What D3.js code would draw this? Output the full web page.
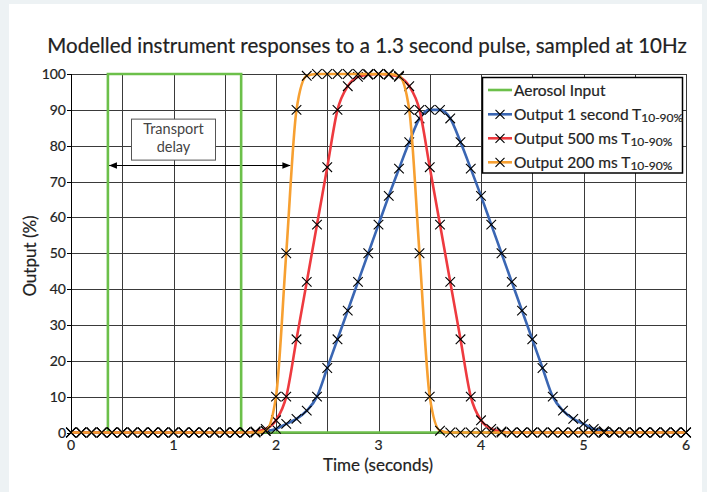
<!DOCTYPE html>
<html>
<head>
<meta charset="utf-8">
<script src="https://cdn.jsdelivr.net/npm/d3@7"></script>
<style>
  html, body { margin: 0; padding: 0; background: #edf2f4; }
  svg { display: block; }
  text { font-family: Lato, "Open Sans", sans-serif; stroke-width: 0.2px; }
</style>
</head>
<body>
<svg id="chart" width="707" height="492"></svg>
<script>
// ---------------- DATA ----------------
const title = "Modelled instrument responses to a 1.3 second pulse, sampled at 10Hz";
const xLabel = "Time (seconds)";
const yLabel = "Output (%)";
const xTicks = [0, 1, 2, 3, 4, 5, 6];
const yTicks = [0, 10, 20, 30, 40, 50, 60, 70, 80, 90, 100];

// sample times at 10 Hz
const time = [0.0,0.1,0.2,0.3,0.4,0.5,0.6,0.7,0.8,0.9,
              1.0,1.1,1.2,1.3,1.4,1.5,1.6,1.7,1.8,1.9,
              2.0,2.1,2.2,2.3,2.4,2.5,2.6,2.7,2.8,2.9,
              3.0,3.1,3.2,3.3,3.4,3.5,3.6,3.7,3.8,3.9,
              4.0,4.1,4.2,4.3,4.4,4.5,4.6,4.7,4.8,4.9,
              5.0,5.1,5.2,5.3,5.4,5.5,5.6,5.7,5.8,5.9,6.0];

// Aerosol input (square pulse)
const aerosolTime  = [0, 0.36, 0.36, 1.66, 1.66, 6];
const aerosolValue = [0, 0, 100, 100, 0, 0];

// Output 1 second T10-90%
const out1s = [0,0,0,0,0,0,0,0,0,0,
               0,0,0,0,0,0,0,0,0.1,0.4,
               1.0,2.4,3.8,6.1,10,18,26,34,42,50,
               58,66,73.6,81,87.6,90,90,87.6,81,73.6,
               66,58,50,42,34,26,18,10,6.1,3.8,
               2.4,1.0,0.4,0.1,0,0,0,0,0,0,0];

// Output 500 ms T10-90%
const out500 = [0,0,0,0,0,0,0,0,0,0,
                0,0,0,0,0,0,0,0,0.3,1.0,
                3.4,10,26,42,58,74,90,96.6,99.2,99.8,
                100,99.8,99.2,96.6,90,74,58,42,26,10,
                3.4,1.0,0.3,0,0,0,0,0,0,0,
                0,0,0,0,0,0,0,0,0,0,0];

// Output 200 ms T10-90%
const out200 = [0,0,0,0,0,0,0,0,0,0,
                0,0,0,0,0,0,0,0,0,0.5,
                10,50,90,99.5,100,100,100,100,100,100,
                100,100,99.5,90,50,10,0.5,0,0,0,
                0,0,0,0,0,0,0,0,0,0,
                0,0,0,0,0,0,0,0,0,0,0];

const seriesNames = ["Aerosol Input", "Output 1 second T", "Output 500 ms T", "Output 200 ms T"];
const seriesSubs  = ["", "10-90%", "10-90%", "10-90%"];
const seriesColors = ["#6cc04a", "#3a66b3", "#ee3a3f", "#f7a031"];

// annotation
const annoText = ["Transport", "delay"];
const annoBox = {t: 1.0, v: 81.7};
const arrowFrom = 0.37, arrowTo = 2.14, arrowV = 74.6;

// ---------------- LAYOUT ----------------
const W = 707, H = 492;
const plot = {left: 71, right: 686, top: 74, bottom: 432.5};
const ink = "#222";

const svg = d3.select("#chart");

// white card
svg.append("rect").attr("x", 9).attr("y", 4).attr("width", 693).attr("height", H - 4)
  .attr("fill", "#ffffff");

const x = d3.scaleLinear().domain([0, 6]).range([plot.left, plot.right]);
const y = d3.scaleLinear().domain([0, 100]).range([plot.bottom, plot.top]);

const crisp = v => Math.round(v) + 0.5;

function fit(sel, base, target) {
  const w = sel.node().getComputedTextLength();
  sel.attr("font-size", base * target / w);
}

// title
const titleEl = svg.append("text")
  .attr("x", 367).attr("y", 53).attr("text-anchor", "middle")
  .attr("font-size", 18).attr("fill", ink).attr("stroke", ink).text(title);
fit(titleEl, 18, 640);

// gridlines
const grid = svg.append("g");
const xGrid = d3.range(0, 6.001, 0.5);
grid.selectAll("line.v").data(xGrid).join("line")
  .attr("x1", d => crisp(x(d))).attr("x2", d => crisp(x(d)))
  .attr("y1", y(100)).attr("y2", y(0))
  .attr("stroke", "#3a3a3a").attr("stroke-width", 1);
grid.selectAll("line.h").data(yTicks).join("line")
  .attr("y1", d => crisp(y(d))).attr("y2", d => crisp(y(d)))
  .attr("x1", x(0)).attr("x2", x(6))
  .attr("stroke", "#3a3a3a").attr("stroke-width", 1);

// annotation box (behind series)
const boxW = 84, boxH = 41;
const bx = x(annoBox.t), by = y(annoBox.v);
svg.append("rect")
  .attr("x", bx - boxW / 2).attr("y", by - boxH / 2).attr("width", boxW).attr("height", boxH)
  .attr("fill", "#fff").attr("stroke", "#555").attr("stroke-width", 1);
svg.selectAll("text.anno").data(annoText).join("text")
  .attr("class", "anno")
  .attr("x", bx).attr("y", (d, i) => by - 5.5 + i * 18)
  .attr("text-anchor", "middle").attr("font-size", 14.5).attr("fill", "#444")
  .style("stroke-width", 0)
  .text(d => d);

// arrow
const defs = svg.append("defs");
defs.append("marker").attr("id", "ah").attr("viewBox", "0 0 10 10")
  .attr("refX", 10).attr("refY", 5).attr("markerWidth", 8).attr("markerHeight", 8)
  .attr("markerUnits", "userSpaceOnUse").attr("orient", "auto-start-reverse")
  .append("path").attr("d", "M0,1 L10,5 L0,9 z").attr("fill", "#000");
svg.append("line")
  .attr("x1", x(arrowFrom)).attr("x2", x(arrowTo))
  .attr("y1", crisp(y(arrowV))).attr("y2", crisp(y(arrowV)))
  .attr("stroke", "#000").attr("stroke-width", 1)
  .attr("marker-start", "url(#ah)").attr("marker-end", "url(#ah)");

// series
const lineGen = d3.line().x(d => x(d[0])).y(d => y(d[1])).curve(d3.curveMonotoneX);
const stepGen = d3.line().x(d => x(d[0])).y(d => y(d[1]));

svg.append("path")
  .attr("d", stepGen(aerosolTime.map((t, i) => [t, aerosolValue[i]])))
  .attr("fill", "none").attr("stroke", seriesColors[0]).attr("stroke-width", 2.6);

const xMark = (g, cx, cy, s) => {
  g.append("path")
    .attr("d", `M${cx - s},${cy - s}L${cx + s},${cy + s}M${cx - s},${cy + s}L${cx + s},${cy - s}`)
    .attr("stroke", "#000").attr("stroke-width", 1.1).attr("fill", "none");
};

const outputs = [out1s, out500, out200];
outputs.forEach((vals, k) => {
  const g = svg.append("g");
  const pts = time.map((t, i) => [t, vals[i]]);
  g.append("path").attr("d", lineGen(pts))
    .attr("fill", "none").attr("stroke", seriesColors[k + 1]).attr("stroke-width", 2.6)
    .attr("stroke-linejoin", "round");
  pts.forEach(p => xMark(g, x(p[0]), y(p[1]), 4.8));
});

// axes
svg.append("line").attr("x1", crisp(x(0))).attr("x2", crisp(x(0)))
  .attr("y1", y(100)).attr("y2", y(0) + 0.5).attr("stroke", "#000").attr("stroke-width", 1);
svg.selectAll("line.yt").data(yTicks).join("line")
  .attr("x1", x(0) - 4).attr("x2", x(0))
  .attr("y1", d => crisp(y(d))).attr("y2", d => crisp(y(d)))
  .attr("stroke", "#000");
svg.selectAll("text.yl").data(yTicks).join("text")
  .attr("x", x(0) - 5).attr("y", d => y(d) + 5)
  .attr("text-anchor", "end").attr("font-size", 14).attr("fill", ink).attr("stroke", ink)
  .text(d => d);
svg.selectAll("text.xl").data(xTicks).join("text")
  .attr("x", d => x(d)).attr("y", 450)
  .attr("text-anchor", "middle").attr("font-size", 14).attr("fill", ink).attr("stroke", ink)
  .text(d => d);

svg.append("text").attr("x", 378).attr("y", 471).attr("text-anchor", "middle")
  .attr("font-size", 17).attr("fill", ink).attr("stroke", ink).text(xLabel);
svg.append("text").attr("transform", "translate(36,256) rotate(-90)")
  .attr("text-anchor", "middle").attr("font-size", 17).attr("fill", ink).attr("stroke", ink).text(yLabel);

// legend
const lg = svg.append("g");
lg.append("rect").attr("x", 482.5).attr("y", 77.5).attr("width", 200).attr("height", 95.5)
  .attr("fill", "#fff").attr("stroke", "#000").attr("stroke-width", 1.5);
const rowY = [90, 114.3, 138.3, 162.3];
seriesNames.forEach((name, i) => {
  const cy = rowY[i];
  lg.append("line").attr("x1", 488).attr("x2", 512).attr("y1", cy).attr("y2", cy)
    .attr("stroke", seriesColors[i]).attr("stroke-width", 2.6);
  if (i > 0) xMark(lg, 500, cy, 4.5);
  const t = lg.append("text").attr("x", 514).attr("y", cy + 5.5)
    .attr("font-size", 15.5).attr("fill", ink).attr("stroke", ink);
  t.append("tspan").text(name);
  if (seriesSubs[i]) t.append("tspan").attr("dy", 2.5).attr("font-size", 12).text(seriesSubs[i]);
});
</script>
</body>
</html>
